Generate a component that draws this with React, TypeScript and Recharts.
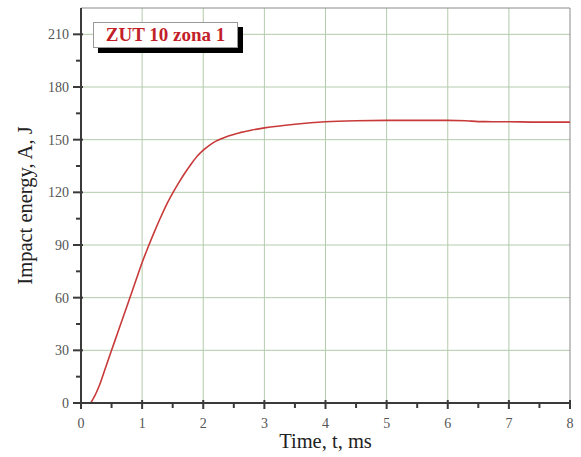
import { LineChart, Line, XAxis, YAxis, CartesianGrid, ReferenceLine } from 'recharts';

// time, ms
const timeMs = [0, 0.1, 0.15, 0.2, 0.3, 0.4, 0.5, 0.6, 0.7, 0.8, 0.9, 1.0, 1.1, 1.2, 1.3, 1.4, 1.5, 1.6, 1.7, 1.8, 1.9, 2.0, 2.1, 2.2, 2.4, 2.6, 2.8, 3.0, 3.5, 4.0, 4.5, 5.0, 5.5, 6.0, 6.3, 6.5, 7.0, 7.5, 8.0];
// impact energy, J
const energyJ = [0, 0, 0, 2.5, 10, 20, 30, 40, 50, 60, 70, 80, 89, 97.5, 105.5, 113, 119.5, 125.5, 131, 136, 140.5, 144, 146.8, 149, 152, 154, 155.5, 156.7, 158.8, 160.2, 160.8, 161, 161, 161, 160.8, 160.3, 160.2, 160, 160];

const xTicks = [0, 0.5, 1, 1.5, 2, 2.5, 3, 3.5, 4, 4.5, 5, 5.5, 6, 6.5, 7, 7.5, 8];
const yTicks = [0, 15, 30, 45, 60, 75, 90, 105, 120, 135, 150, 165, 180, 195, 210];
const xGrid = [1, 2, 3, 4, 5, 6, 7];
const yGrid = [30, 60, 90, 120, 150, 180, 210];

const data = timeMs.map((t, i) => ({ t, e: energyJ[i] }));

const serif = '"Liberation Serif", "Times New Roman", serif';
const axisColor = '#3a3a3a';
const gridColor = '#b3cbab';

const XTick = (props: any) => {
  const { x, y, payload } = props;
  const major = Number.isInteger(payload.value);
  return (
    <g>
      <line x1={x} x2={x} y1={major ? y - 3 : y} y2={major ? y + 6 : y + 5} stroke={axisColor} strokeWidth={2} />
      {major && (
        <text x={x} y={y + 20} dy="0.35em" textAnchor="middle" fill="#555" fontSize={14} fontFamily={serif}>
          {payload.value}
        </text>
      )}
    </g>
  );
};

const YTick = (props: any) => {
  const { x, y, payload } = props;
  const major = payload.value % 30 === 0;
  return (
    <g>
      <line x1={major ? x - 8 : x - 5} x2={major ? x + 2 : x} y1={y} y2={y} stroke={axisColor} strokeWidth={2} />
      {major && (
        <text x={x - 12} y={y} dy="0.35em" textAnchor="end" fill="#555" fontSize={14} fontFamily={serif}>
          {payload.value}
        </text>
      )}
    </g>
  );
};

export default function App() {
  return (
    <div style={{ position: 'absolute', left: 0, top: 0, width: 581, height: 457, background: '#fff' }}>
      <LineChart width={581} height={457} data={data} margin={{ top: 8, right: 11, left: 21, bottom: 24 }}>
        <CartesianGrid
          stroke={gridColor}
          strokeWidth={1}
          horizontalValues={yGrid}
          verticalValues={xGrid}
        />
        <ReferenceLine y={225} stroke="#8a8a8a" strokeWidth={1} />
        <ReferenceLine x={8} stroke="#8a8a8a" strokeWidth={1} />
        <XAxis
          dataKey="t"
          type="number"
          domain={[0, 8]}
          ticks={xTicks}
          interval={0}
          tick={<XTick />}
          tickSize={0}
          tickMargin={0}
          tickLine={false}
          height={30}
          axisLine={{ stroke: axisColor, strokeWidth: 2 }}
          label={{ value: 'Time, t, ms', position: 'bottom', offset: 0, fill: '#222', fontSize: 20.5, fontFamily: serif }}
        />
        <YAxis
          type="number"
          domain={[0, 225]}
          ticks={yTicks}
          interval={0}
          tick={<YTick />}
          tickSize={0}
          tickMargin={0}
          tickLine={false}
          width={60}
          axisLine={{ stroke: axisColor, strokeWidth: 2 }}
          label={{ value: 'Impact energy, A, J', angle: -90, position: 'insideLeft', offset: 4, fill: '#222', fontSize: 20.5, fontFamily: serif, style: { textAnchor: 'middle' } }}
        />
        <Line
          type="monotone"
          dataKey="e"
          stroke="#c83a3a"
          strokeWidth={1.6}
          dot={false}
          isAnimationActive={false}
        />
      </LineChart>
      <div
        style={{
          position: 'absolute',
          left: 93,
          top: 22,
          width: 145,
          height: 26,
          boxSizing: 'border-box',
          border: '1px solid #999',
          background: '#fff',
          boxShadow: '5px 5px 0 #000',
          color: '#c21f2b',
          fontFamily: serif,
          fontWeight: 'bold',
          fontSize: 19,
          lineHeight: '24px',
          textAlign: 'center',
        }}
      >
        ZUT 10 zona 1
      </div>
    </div>
  );
}
